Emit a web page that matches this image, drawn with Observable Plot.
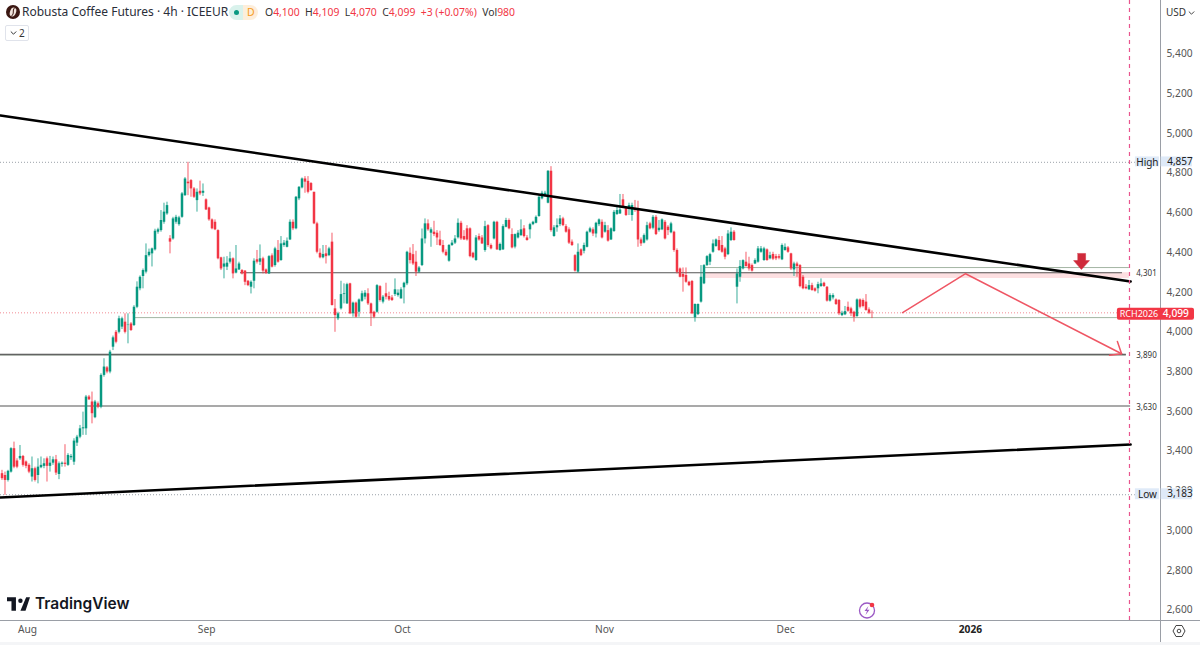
<!DOCTYPE html>
<html><head><meta charset="utf-8">
<script src="https://cdn.jsdelivr.net/npm/d3@7"></script>
<script src="https://cdn.jsdelivr.net/npm/@observablehq/plot@0.6"></script>
<style>
html,body{margin:0;padding:0;background:#fff;width:1200px;height:645px;overflow:hidden}
body{position:relative;font-family:"Noto Sans",sans-serif;color:#333}
#chart svg{display:block}
.o{position:absolute;white-space:nowrap}
.r{color:#f23645}
</style></head><body>
<div id="chart"></div>

<svg class="o" style="left:6px;top:5px" width="14" height="14" viewBox="0 0 14 14"><circle cx="7" cy="7" r="7" fill="#3b1712"/><ellipse cx="7" cy="7" rx="3" ry="4.6" fill="#f1e4dc" transform="rotate(20 7 7)"/><path d="M8.6 2.8C5.8 6 9 8 5.4 11.2" stroke="#3b1712" fill="none"/></svg>
<div class="o" id="title" style="left:22px;top:3px;font-size:12px;line-height:18px;color:#2a2e39">Robusta Coffee Futures · 4h · ICEEUR</div>
<div class="o" style="left:229px;top:5px;width:29px;height:15px;border-radius:8px;background:linear-gradient(90deg,#d9f2ec 0 50%,#fdeedb 50% 100%)"></div>
<div class="o" style="left:234px;top:10px;width:5px;height:5px;border-radius:50%;background:#089981"></div>
<div class="o" style="left:247px;top:5px;font-size:10.5px;line-height:15px;color:#f59c23">D</div>
<div class="o" style="left:265px;top:4px;font-size:10.4px;line-height:17px;color:#333;word-spacing:0">O<span class="r">4,100</span>&nbsp; H<span class="r">4,109</span>&nbsp; L<span class="r">4,070</span>&nbsp; C<span class="r">4,099</span>&nbsp; <span class="r">+3 (+0.07%)</span>&nbsp; Vol<span class="r">980</span></div>
<div class="o" style="left:5px;top:25px;width:22px;height:14px;border:1px solid #e0e3eb;border-radius:2px;font-size:10px;line-height:14px;color:#333"><svg style="position:absolute;left:4px;top:4px" width="7" height="6" viewBox="0 0 7 6"><path d="M.8 1.5 3.5 4.2 6.2 1.5" stroke="#333" fill="none"/></svg><span style="position:absolute;left:13px">2</span></div>

<div class="o" style="left:1166px;top:4px;font-size:10px;line-height:16px;color:#333">USD</div>
<svg class="o" style="left:1188px;top:10px" width="7" height="6" viewBox="0 0 7 6"><path d="M.8 1.5 3.5 4.2 6.2 1.5" stroke="#444" fill="none"/></svg>

<svg class="o" style="left:7px;top:597px" width="23" height="14" viewBox="0 0 36 21"><path d="M14 0H0v6h7v15h7zM29 21h-8L30 0h6zM21 9a3.5 3.5 0 1 0 0-7 3.5 3.5 0 0 0 0 7z" fill="#131722"/></svg>
<div class="o" id="tv" style="left:35px;top:593px;font-family:Inter,sans-serif;font-weight:600;font-size:15.5px;line-height:22px;color:#131722">TradingView</div>

<svg class="o" style="left:857px;top:600px" width="20" height="20" viewBox="0 0 20 20"><circle cx="10" cy="10.5" r="7.5" fill="none" stroke="#9b59c4" stroke-width="1.3"/><path d="M11.5 6 7.5 11H10L8.5 15 12.5 9.8H10z" fill="#9b59c4"/><circle cx="15" cy="5" r="2.3" fill="#f23645"/></svg>
<svg class="o" style="left:1172px;top:624px" width="14" height="14" viewBox="0 0 14 14"><path d="M4 1.5h6L13 7l-3 5.5H4L1 7z" fill="none" stroke="#444"/><circle cx="7" cy="7" r="1.8" fill="none" stroke="#444"/></svg>
<div class="o" style="left:0;top:642px;width:1200px;height:3px;background:#f4f5f7"></div>

<script>
const upColor = "#089981", downColor = "#f23645";

const opens = [
3284,3275,3250,3292,3410,3348,3359,3371,3343,3326,3267,3309,3275,3314,3321,3359,3321,3337,3354,3280,3331,3337,3326,3364,3342,3438,3468,3510,3510,3670,3645,3566,3636,3619,3779,3817,3796,
3921,3996,3996,4022,4047,4030,4038,4030,4122,4215,4277,4299,4382,4391,4411,4500,4508,4550,4592,4467,4466,4550,4538,4575,4684,4752,4760,4718,4659,4706,4696,4663,4622,4562,4550,4508,4371,4324,4324,4349,4366,4294,4310,4307,4304,4253,4223,4253,4361,4349,4366,4310,4290,4381,4332,4408,4357,4433,4424,4461,4550,4517,4668,4723,4768,4756,4745,4701,4542,4394,4371,4391,4382,
4450,4114,4064,4114,4186,4139,4240,4089,4143,4097,4152,4173,4190,4139,4097,4097,4226,4148,4190,4176,4169,4186,4181,4164,4220,4240,4394,4387,4349,4299,4332,4466,4542,4495,4500,4495,4461,4433,4399,4354,4433,4445,4472,4545,4478,4517,4517,4394,4357,4478,4471,4408,4533,4433,4466,4550,4408,4411,4525,4559,4488,4425,4471,4483,4517,4471,4512,4538,4545,4579,4668,4685,4646,4807,4478,4522,4538,4567,4528,4512,4450,4382,4299,4411,4404,4424,4500,4512,4491,4538,4550,4500,4508,4461,4503,4589,4592,
4663,4622,4622,4584,4617,4617,4461,4445,4461,4542,4520,4575,4508,4512,4550,4525,4497,4500,4408,4315,4287,4282,4248,4252,4069,4085,4148,4240,4332,4349,4399,4428,4458,4433,4416,4387,4458,4500,
4223,4273,4315,4349,4340,4332,4340,4349,4399,4357,4411,4366,4388,4377,4377,4361,4408,4421,4391,4310,4340,4332,4273,4223,4210,4231,4215,4215,4226,4243,4223,4153,4169,4159,4156,4080,4084,4122,4114,4097,4075,4159,4156,4148,4109,4095];

const closes = [
3259,3250,3296,3410,3317,3317,3371,3326,3321,3292,3309,3250,3317,3326,3334,3321,3337,3354,3287,3334,3337,3331,3376,3371,3448,3468,3510,3515,3670,3656,3586,3645,3619,3779,3821,3796,3896,
3968,3946,4064,4064,3996,4032,4005,4122,4223,4273,4307,4382,4399,4416,4505,4512,4559,4601,4634,4450,4567,4575,4572,4693,4768,4744,4718,4676,4701,4693,4706,4612,4562,4517,4512,4366,4315,4340,4344,4366,4290,4315,4340,4290,4248,4231,4248,4354,4349,4366,4304,4293,4377,4324,4416,4349,4441,4445,4455,4550,4517,4676,4726,4768,4752,4701,4710,4542,4399,4371,4388,4377,4416,
4131,4080,4089,4186,4190,4236,4089,4143,4072,4159,4190,4193,4139,4089,4072,4231,4156,4173,4173,4159,4156,4210,4193,4210,4243,4399,4357,4340,4299,4320,4466,4542,4512,4512,4488,4471,4433,4399,4382,4433,4445,4466,4545,4466,4461,4461,4377,4371,4471,4461,4441,4528,4433,4416,4550,4411,4438,4528,4559,4517,4421,4488,4495,4512,4478,4458,4538,4550,4575,4676,4696,4696,4807,4508,4522,4533,4567,4533,4500,4445,4433,4304,4399,4382,4433,4500,4517,4491,4545,4562,4471,4533,4455,4517,4600,4609,4612,
4626,4584,4634,4634,4609,4461,4441,4483,4533,4517,4575,4488,4520,4562,4466,4508,4542,4408,4298,4273,4273,4248,4231,4089,4136,4136,4273,4332,4377,4387,4441,4461,4408,4399,4374,4491,4500,4458,
4290,4327,4357,4327,4315,4304,4357,4416,4416,4416,4357,4382,4364,4366,4369,4433,4424,4399,4315,4340,4327,4226,4215,4215,4231,4206,4203,4236,4240,4226,4153,4181,4181,4136,4089,4092,4100,4102,4089,4072,4159,4122,4126,4106,4092,4094];

const highs = [
3301,3292,3301,3415,3443,3359,3426,3376,3348,3334,3368,3317,3359,3368,3359,3368,3371,3368,3376,3343,3343,3430,3385,3381,3460,3477,3527,3594,3678,3678,3695,3653,3645,3787,3863,3824,3905,
3977,4005,4077,4072,4089,4089,4045,4130,4250,4280,4315,4441,4415,4420,4515,4520,4609,4646,4651,4483,4575,4585,4580,4700,4775,4852,4765,4725,4718,4757,4743,4668,4626,4567,4562,4512,4374,4374,4377,4399,4371,4433,4349,4312,4307,4257,4255,4366,4408,4436,4374,4315,4382,4391,4424,4458,4478,4458,4471,4562,4562,4680,4730,4773,4780,4780,4750,4701,4550,4416,4433,4433,4424,
4495,4161,4097,4253,4240,4243,4243,4148,4148,4164,4203,4206,4215,4143,4102,4236,4231,4181,4243,4198,4181,4265,4210,4220,4248,4404,4421,4438,4404,4327,4516,4567,4562,4522,4555,4508,4505,4458,4411,4438,4458,4483,4567,4555,4508,4533,4522,4399,4483,4491,4483,4555,4538,4441,4555,4555,4445,4538,4570,4567,4517,4491,4508,4562,4533,4483,4545,4555,4582,4684,4706,4706,4810,4830,4533,4567,4584,4575,4538,4522,4461,4387,4441,4416,4445,4505,4525,4522,4550,4567,4562,4550,4533,4522,4609,4626,4690,
4690,4629,4646,4646,4660,4656,4471,4491,4550,4550,4584,4584,4559,4567,4559,4533,4550,4505,4416,4320,4320,4320,4253,4257,4139,4139,4332,4337,4382,4394,4461,4466,4478,4478,4424,4508,4522,4508,
4315,4357,4361,4399,4374,4340,4366,4428,4428,4424,4416,4399,4399,4388,4388,4441,4441,4428,4394,4349,4349,4337,4282,4236,4257,4243,4220,4248,4265,4248,4226,4190,4190,4164,4161,4102,4126,4148,4122,4102,4164,4164,4164,4186,4119,4104];

const lows = [
3250,3175,3242,3287,3309,3309,3351,3317,3309,3284,3242,3242,3233,3309,3309,3242,3292,3326,3275,3254,3317,3317,3321,3351,3326,3421,3460,3477,3477,3653,3535,3561,3611,3611,3770,3787,3787,
3904,3938,3988,4010,3988,3938,4000,4025,4115,4205,4215,4290,4375,4325,4405,4490,4500,4540,4585,4391,4460,4540,4530,4570,4680,4684,4676,4670,4601,4684,4680,4609,4555,4512,4508,4361,4307,4265,4307,4340,4265,4290,4307,4285,4231,4226,4189,4215,4340,4332,4290,4287,4287,4320,4324,4344,4354,4424,4421,4458,4508,4512,4659,4718,4696,4693,4705,4538,4391,4366,4366,4340,4377,
4128,3996,4055,4108,4139,4136,4085,4072,4068,4072,4147,4159,4131,4025,4064,4092,4148,4139,4159,4152,4151,4176,4173,4164,4139,4231,4340,4332,4277,4293,4327,4441,4505,4424,4478,4433,4428,4391,4377,4349,4428,4438,4466,4458,4458,4455,4371,4366,4354,4455,4438,4399,4424,4411,4461,4408,4404,4408,4522,4512,4416,4416,4466,4478,4471,4455,4466,4533,4542,4575,4663,4676,4643,4500,4475,4500,4528,4528,4495,4438,4428,4299,4294,4377,4391,4421,4495,4478,4471,4528,4466,4495,4450,4458,4500,4584,4589,
4622,4579,4584,4555,4600,4424,4428,4441,4455,4512,4512,4483,4500,4508,4461,4483,4492,4399,4290,4270,4198,4243,4226,4085,4047,4080,4143,4236,4327,4332,4394,4424,4403,4394,4361,4382,4453,4455,
4139,4248,4310,4324,4304,4299,4337,4344,4394,4354,4354,4361,4357,4357,4361,4357,4404,4394,4307,4277,4273,4220,4210,4210,4206,4203,4198,4190,4223,4223,4148,4148,4159,4131,4080,4075,4080,4097,4075,4047,4072,4114,4119,4102,4085,4065];

// the prices above were read against a scale one pixel higher than the price lines
const readingOffset = 5;
const candles = opens.map((o, i) => ({
  bar: i + 0.5,
  open: o + readingOffset, close: closes[i] + readingOffset,
  high: highs[i] + readingOffset, low: lows[i] + readingOffset,
  color: closes[i] >= o ? upColor : downColor
}));

const priceTicks = [2600,2800,3000,3200,3400,3600,3800,4000,4200,4400,4600,4800,5000,5200,5400];
const monthLabels = ["Aug","Sep","Oct","Nov","Dec"];
const monthBars = [9,68.7,134,201.3,261.7];
const yearLabels = ["2026"];
const yearBars = [323.3];

const highPrice = 4857, lowPrice = 3183, lastPrice = 4099;
const fmt = d3.format(",");

// x in bars, y in price
const upperTrend = [{bar:0,price:5092.6},{bar:376.7,price:4256.8}];
const lowerTrend = [{bar:0,price:3169},{bar:376.7,price:3436}];
const projection = [{bar:300.7,price:4100},{bar:321.7,price:4296},{bar:373.7,price:3893}];
const arrowHead = [{bar:372.3,price:3955},{bar:373.7,price:3893},{bar:369.7,price:3885}];
const bigArrow = [
  {bar:359,price:4398},{bar:361.7,price:4398},{bar:361.7,price:4362},{bar:363,price:4362},
  {bar:360.3,price:4317},{bar:357.7,price:4362},{bar:359,price:4362}];

const hLines = [
  {price:4301,from:80,to:374,stroke:"#555",w:1.1},
  {price:3890,from:0,to:375.3,stroke:"#555",w:1.1},
  {price:3885,from:0,to:375.3,stroke:"#a3aba3",w:1},
  {price:3630,from:0,to:376.7,stroke:"#555",w:1.1},
  {price:4327,from:235,to:376.3,stroke:"#a3b5a3",w:1},
  {price:4075,from:45,to:372.3,stroke:"#a3b5a3",w:1}
];
const levelLabels = [{price:4301,text:"4,301"},{price:3890,text:"3,890"},{price:3630,text:"3,630"}];

const axisEnd = 386.67, pageEnd = 400;
const plot = Plot.plot({
  width:1200, height:645,
  marginTop:0, marginLeft:0, marginRight:40, marginBottom:25,
  x:{domain:[0,axisEnd], axis:null},
  y:{domain:[2549.8,5671.7], axis:null},
  style:{fontFamily:'"Noto Sans",sans-serif',fontSize:"10.2px",background:"#fff",overflow:"visible"},
  marks:[
    Plot.axisY(priceTicks,{anchor:"right",tickSize:0,tickPadding:6,tickFormat:fmt,fill:"#555",dy:-0.5}),
    Plot.axisX(monthBars,{anchor:"bottom",tickSize:0,tickPadding:5,tickFormat:(d,i)=>monthLabels[i],fill:"#555"}),
    Plot.axisX(yearBars,{anchor:"bottom",tickSize:0,tickPadding:5,tickFormat:(d,i)=>yearLabels[i],fill:"#222",fontWeight:"bold"}),

    // level zone
    Plot.rect([{x1:235,x2:376.3,y1:4272,y2:4301}],{x1:"x1",x2:"x2",y1:"y1",y2:"y2",fill:"#f23645",fillOpacity:.16}),
    Plot.ruleY(hLines,{y:"price",x1:"from",x2:"to",stroke:"stroke",strokeWidth:"w"}),

    // dotted price lines
    Plot.ruleY([highPrice,lowPrice],{x1:0,x2:378.3,stroke:"#9aa0a8",strokeWidth:1,strokeDasharray:"1,2"}),
    Plot.ruleY([lastPrice],{x1:0,x2:372.3,stroke:"#f28b94",strokeWidth:1,strokeDasharray:"1,2"}),

    // candles
    Plot.ruleX(candles,{x:"bar",y1:"low",y2:"high",stroke:"color",strokeWidth:1,strokeOpacity:.8}),
    Plot.ruleX(candles,{x:"bar",y1:"open",y2:"close",stroke:"color",strokeWidth:2.5}),

    // trend lines
    Plot.line(upperTrend,{x:"bar",y:"price",stroke:"#000",strokeWidth:2.6}),
    Plot.line(lowerTrend,{x:"bar",y:"price",stroke:"#000",strokeWidth:2.6}),

    // projection
    Plot.line(projection,{x:"bar",y:"price",stroke:"#ef5664",strokeWidth:1.5}),
    Plot.line(arrowHead,{x:"bar",y:"price",stroke:"#ef5664",strokeWidth:1.5}),
    Plot.line(bigArrow,{x:"bar",y:"price",fill:"#cf2a3a",stroke:"#cf2a3a",strokeWidth:.5}),

    // session divider
    Plot.ruleX([376.33],{y1:2549.8,y2:5671.7,stroke:"#e8558e",strokeWidth:1.2,strokeDasharray:"4,4"}),

    // axis frame
    Plot.ruleX([axisEnd],{y1:2439,y2:5671.7,stroke:"#9a9ea6",strokeWidth:1}),
    Plot.ruleY([2549.8],{x1:0,x2:pageEnd,stroke:"#9a9ea6",strokeWidth:1}),

    // level labels
    Plot.text(levelLabels,{x:378.6,y:"price",text:"text",textAnchor:"start",fontSize:8,fill:"#333",dy:1}),

    // High / Low tags
    Plot.rect([{x1:378.3,x2:386.3,y1:4834,y2:4884},{x1:378.3,x2:386.3,y1:3158,y2:3213}],{x1:"x1",x2:"x2",y1:"y1",y2:"y2",fill:"#dfeaf8"}),
    Plot.rect([{x1:386.9,x2:397.3,y1:4834,y2:4884},{x1:386.9,x2:397.3,y1:3158,y2:3213}],{x1:"x1",x2:"x2",y1:"y1",y2:"y2",fill:"#dfeaf8"}),
    Plot.text(["High","Low"],{x:382.3,y:(d,i)=>[highPrice,lowPrice][i],text:d=>d,fill:"#222",fontSize:10}),
    Plot.text([highPrice,lowPrice],{x:388.9,y:d=>d,text:fmt,fill:"#222",textAnchor:"start",fontSize:10,dy:-0.5}),

    // last price tag
    Plot.rect([{x1:372.3,x2:398,y1:4062,y2:4122}],{x1:"x1",x2:"x2",y1:"y1",y2:"y2",fill:downColor,rx:2}),
    Plot.text(["RCH2026"],{x:379.5,y:4092,text:d=>d,fill:"#fff",fontSize:9}),
    Plot.text([lastPrice],{x:391.8,y:4092,text:fmt,fill:"#fff",fontSize:10.2,fontWeight:500})
  ]
});
document.getElementById("chart").append(plot);
</script>
</body></html>
